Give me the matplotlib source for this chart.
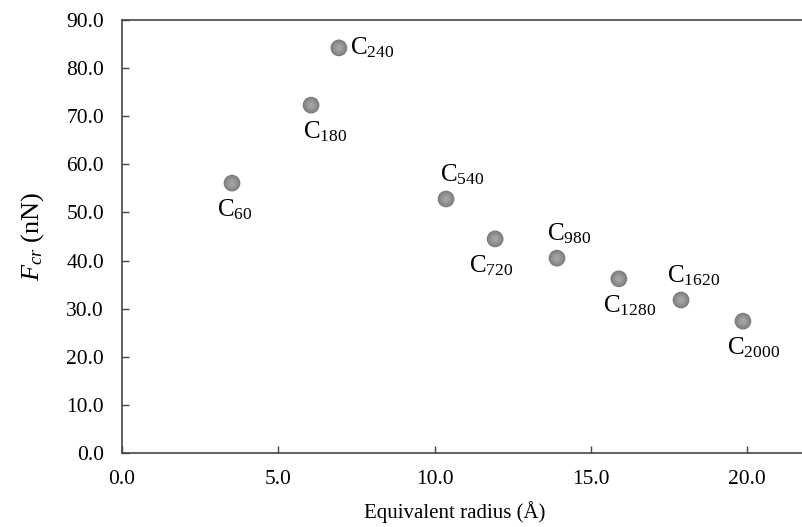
import matplotlib
matplotlib.use("Agg")
import matplotlib.pyplot as plt
from matplotlib.ticker import FormatStrFormatter

plt.rcParams['font.family'] = ['Liberation Serif', 'DejaVu Serif']
plt.rcParams['mathtext.fontset'] = 'custom'
plt.rcParams['mathtext.rm'] = 'Liberation Serif'
plt.rcParams['mathtext.it'] = 'Liberation Serif:italic'
plt.rcParams['mathtext.bf'] = 'Liberation Serif:bold'

# Data
labels = ["60", "180", "240", "540", "720", "980", "1280", "1620", "2000"]
radius = [3.52, 6.05, 6.94, 10.37, 11.94, 13.92, 15.90, 17.89, 19.87]
force = [56.1, 72.3, 84.2, 52.8, 44.5, 40.5, 36.2, 31.8, 27.4]

# label layout (side and horizontal shift in px)
placement = ["below", "below", "right", "above", "below", "above", "below", "above", "below"]
shift_px = [2.5, 14, 0, 16, -4, 12, 11, 13, 11]

W, H = 802, 527
fig = plt.figure(figsize=(W / 100, H / 100), dpi=100)
left, right, bottom, top = 122, 809.5, 453, 20
ax = fig.add_axes([left / W, 1 - bottom / H, (right - left) / W, (bottom - top) / H])

ax.set_xlim(0, 22)
ax.set_ylim(0, 90)
ax.set_xticks([0, 5, 10, 15, 20])
ax.set_yticks(range(0, 91, 10))
ax.xaxis.set_major_formatter(FormatStrFormatter('%.1f'))
ax.yaxis.set_major_formatter(FormatStrFormatter('%.1f'))

spine_col = '#454545'
for s in ax.spines.values():
    s.set_color(spine_col)
    s.set_linewidth(1.2)
ax.tick_params(direction='in', length=5, width=1.0, color=spine_col,
               labelsize=15.5, top=False, right=False)
ax.tick_params(axis='y', pad=13)
ax.tick_params(axis='x', pad=12)

# sphere-like markers: layered circles
layers = [(145, '#7a7a7a'), (115, '#858585'), (75, '#8f8f8f'), (38, '#9a9a9a'), (14, '#a2a2a2')]
for i, (s, c) in enumerate(layers):
    ax.scatter(radius, force, s=s, color=c, edgecolors='none', zorder=3 + i, clip_on=False)

for lab, x, y, p, dx in zip(labels, radius, force, placement, shift_px):
    txt = r'$\mathrm{C}_{%s}$' % lab
    dxp = dx * 0.72
    if p == 'below':
        ax.annotate(txt, (x, y), xytext=(dxp, -10.5), textcoords='offset points',
                    ha='center', va='top', fontsize=18)
    elif p == 'above':
        ax.annotate(txt, (x, y), xytext=(dxp, 8.5), textcoords='offset points',
                    ha='center', va='bottom', fontsize=18)
    else:
        ax.annotate(txt, (x, y), xytext=(8, 0), textcoords='offset points',
                    ha='left', va='center', fontsize=18)

ax.set_xlabel('Equivalent radius (Å)', fontsize=15)
ax.set_ylabel(r'$F_{cr}$ (nN)', fontsize=19)
ax.xaxis.set_label_coords((455 - left) / (right - left), -0.11)
ax.yaxis.set_label_coords(-0.11, 0.5)

fig.savefig('out.png', dpi=100)
